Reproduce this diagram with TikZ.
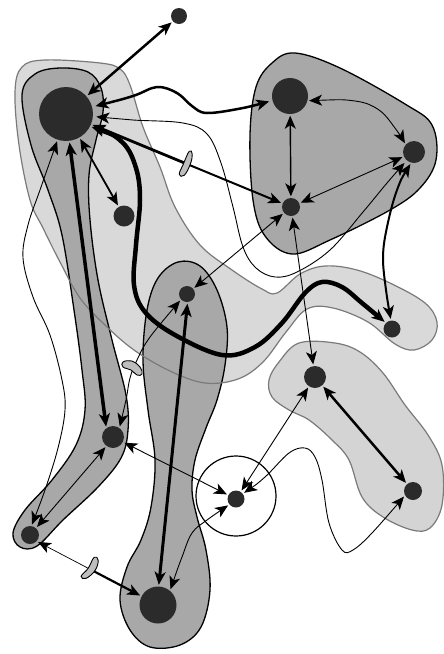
\documentclass[tikz,border=0pt]{standalone}
\usetikzlibrary{arrows.meta,calc}
\definecolor{vtxc}{RGB}{43,43,43}
\definecolor{dblob}{RGB}{168,168,168}
\definecolor{lblob}{RGB}{217,217,217}
\definecolor{lblobE}{RGB}{212,212,212}
\definecolor{lstroke}{RGB}{122,122,122}
\definecolor{pinchc}{RGB}{190,190,190}
\begin{document}
\begin{tikzpicture}[x=1pt,y=-1pt,
  >={Stealth[length=13pt,width=11pt,inset=3.5pt]},
  vtx/.style={circle,fill=vtxc,draw=none,inner sep=0pt},
  darkblob/.style={fill=dblob,draw=black,line width=1.3pt},
  lightline/.style={draw=lstroke,line width=1.2pt},
  ew/.style={<->,shorten <=1.5pt,shorten >=1.5pt},
  ethin/.style={ew,line width=0.9pt},
  emed/.style={ew,line width=1.5pt},
  ethick/.style={ew,line width=2.5pt},
  eheavy/.style={ew,line width=4.5pt},
  pinch/.style={fill=pinchc,draw=black,line width=0.9pt},
  ringstyle/.style={circle,draw=black,line width=1.2pt,fill=none,inner sep=0pt}
]
\fill[white] (0,0) rectangle (444,654);
\useasboundingbox (0,0) rectangle (444,654);

% light blob A (fill)
\fill[lblob] plot[smooth cycle, tension=0.6] coordinates {(15,92) (22,67) (45,60) (100,63) (120,69) (130,85) (143,127) (160,167) (175,207) (200,245) (232,270) (262,289) (277,293) (300,274) (325,266) (357,270) (392,284) (425,303) (437,322) (432,340) (414,350) (395,344) (368,322) (333,308) (307,309) (286,332) (263,362) (238,379) (205,383) (170,371) (134,350) (105,325) (80,298) (60,262) (43,228) (30,200) (19,145)};

% dark blob B
\path[darkblob] plot[smooth cycle, tension=0.6] coordinates {(22,95) (35,74) (60,68) (88,72) (101,88) (103,112) (96,140) (89,175) (90,220) (98,280) (112,340) (126,395) (128,430) (121,458) (98,487) (63,520) (37,546) (20,547) (13,533) (25,510) (52,480) (76,445) (85,410) (82,370) (74,310) (62,235) (48,190) (31,145)};

% dark blob C
\path[darkblob] plot[smooth cycle, tension=0.6] coordinates {(295,53) (340,68) (405,104) (432,125) (436,160) (420,188) (390,210) (330,240) (292,254) (265,236) (253,200) (250,135) (256,87) (272,63)};

% dark blob D
\path[darkblob] plot[smooth cycle, tension=0.6] coordinates {(178,262) (200,266) (217,290) (227,327) (225,365) (217,400) (206,428) (195,460) (192,490) (197,517) (206,550) (210,590) (201,627) (180,645) (150,647) (130,630) (120,600) (127,567) (141,540) (151,507) (155,460) (148,410) (143,360) (147,310) (158,278)};

% light blob A outline (over the dark blobs)
\draw[lightline] plot[smooth cycle, tension=0.6] coordinates {(15,92) (22,67) (45,60) (100,63) (120,69) (130,85) (143,127) (160,167) (175,207) (200,245) (232,270) (262,289) (277,293) (300,274) (325,266) (357,270) (392,284) (425,303) (437,322) (432,340) (414,350) (395,344) (368,322) (333,308) (307,309) (286,332) (263,362) (238,379) (205,383) (170,371) (134,350) (105,325) (80,298) (60,262) (43,228) (30,200) (19,145)};

% light blob E
\path[fill=lblobE,draw=lstroke,line width=1.2pt] plot[smooth cycle, tension=0.6] coordinates {(299,343) (335,343) (360,352) (383,373) (405,405) (428,435) (442,465) (442,505) (430,528) (412,530) (383,517) (362,497) (349,460) (332,440) (309,420) (289,410) (272,397) (269,380) (279,362)};

% ring around n11
\node[ringstyle, minimum size=80pt] (ring) at (236,496) {};

% vertices
\node[vtx, minimum size=54pt] (n1) at (66,114) {};
\node[vtx, minimum size=16pt] (n2) at (179,16) {};
\node[vtx, minimum size=36pt] (n3) at (290,96) {};
\node[vtx, minimum size=22pt] (n4) at (414,152) {};
\node[vtx, minimum size=18pt] (n5) at (291,207) {};
\node[vtx, minimum size=21pt] (n6) at (124,216) {};
\node[vtx, minimum size=16pt] (n7) at (187,294) {};
\node[vtx, minimum size=17pt] (n8) at (392,329) {};
\node[vtx, minimum size=22pt] (n9) at (315,377) {};
\node[vtx, minimum size=22pt] (n10) at (113,437) {};
\node[vtx, minimum size=17pt] (n11) at (236,499) {};
\node[vtx, minimum size=18pt] (n12) at (413,491) {};
\node[vtx, minimum size=18pt] (n13) at (30,535) {};
\node[vtx, minimum size=37pt] (n14) at (158,605) {};

% edges
\draw[ethick] (n1) -- (n2);
\coordinate (a2) at ($(n1)!29pt!(133,96)$);
\coordinate (b2) at ($(n3)!20pt!(243,108)$);
\draw[ethick] plot[smooth, tension=0.6] coordinates {(a2) (133,96) (157,87) (177,93) (192,106) (207,113) (243,108) (b2)};

\coordinate (p1) at ($(n1)!0.53!(n5)$);
\draw[ethick,line width=2.8pt,<-] (n1) -- (p1);
\draw[ethick,line width=2pt,->] (p1) -- (n5);

\coordinate (a4) at ($(n1)!29pt!(133,120)$);
\coordinate (b4) at ($(n4)!13pt!(387,183)$);
\draw[ethin] plot[smooth, tension=0.6] coordinates {(a4) (133,120) (183,123) (207,134) (221,163) (233,207) (243,247) (256,268) (275,277) (297,272) (330,250) (363,212) (387,183) (b4)};

\draw[emed,line width=1.8pt] (n1) -- (n6);
\draw[ethick,line width=3.5pt] (n1.-83) -- (n10.127);
\draw[ethin] plot[smooth, tension=0.6] coordinates {(n1.-108) (40,190) (28,225) (23,258) (33,297) (50,335) (62,380) (65,410) (58,448) (45,490) (n13.81)};
\draw[ethin] (n10.-126) -- (n13.49);
\draw[ethin] plot[smooth, tension=0.6] coordinates {(n10.55) (126,400) (130,378) (137,360) (150,337) (n7.-137)};
\draw[ethick,line width=3pt] (n14.88) -- (n7.-86);
\draw[ethin] (n7) -- (n5);
\draw[ethin] (n10) -- (n11);
\draw[ethin] plot[smooth, tension=0.6] coordinates {(n14.50) (182,557) (192,533) (207,520) (n11.-140)};
\draw[ethin] (n9) -- (n11);
\draw[ethin] plot[smooth, tension=0.6] coordinates {(n11.38) (265,477) (289,453) (305,448) (315,457) (322,480) (329,523) (342,550) (353,550) (372,533) (n12.-151)};
\draw[ethick] (n9) -- (n12);
\draw[ethin] (n5) -- (n9);
\draw[eheavy] plot[smooth, tension=0.6] coordinates {(n1.-27) (122,142) (136,168) (140,200) (136,245) (134,285) (145,312) (175,335) (222,355) (255,347) (282,323) (305,293) (322,282) (342,287) (362,303) (n8.135)};
\draw[emed,line width=1.4pt] (n3) -- (n5);
\draw[ethin] plot[smooth, tension=0.6] coordinates {(n3.-15) (355,101) (379,110) (395,128) (n4.138)};
\draw[ethin] (n4) -- (n5);
\draw[emed,line width=2pt] plot[smooth, tension=0.6] coordinates {(n4.-105) (397,190) (387,227) (383,257) (386,290) (n8.97)};

\coordinate (p3) at ($(n13.-43)!0.51!(n14.152)$);
\draw[ethin,line width=0.7pt,<-] (n13.-43) -- (p3);
\draw[ethick,line width=2.2pt,->] (p3) -- (n14.152);

% pinch marks
\draw[pinch, shift={(p1)}] plot[smooth cycle, tension=0.7] coordinates {(4,-12) (7,-9) (5,1) (-1,12) (-6,11) (-2,1)};
\draw[pinch] plot[smooth cycle, tension=0.7] coordinates {(123,362) (132,361) (140,367) (142,374) (137,375) (131,370) (123,367)};
\draw[pinch, shift={(p3)}] plot[smooth cycle, tension=0.7] coordinates {(4,-12) (8,-9) (5,1) (-4,9) (-9,7) (-2,-1)};
\end{tikzpicture}
\end{document}
